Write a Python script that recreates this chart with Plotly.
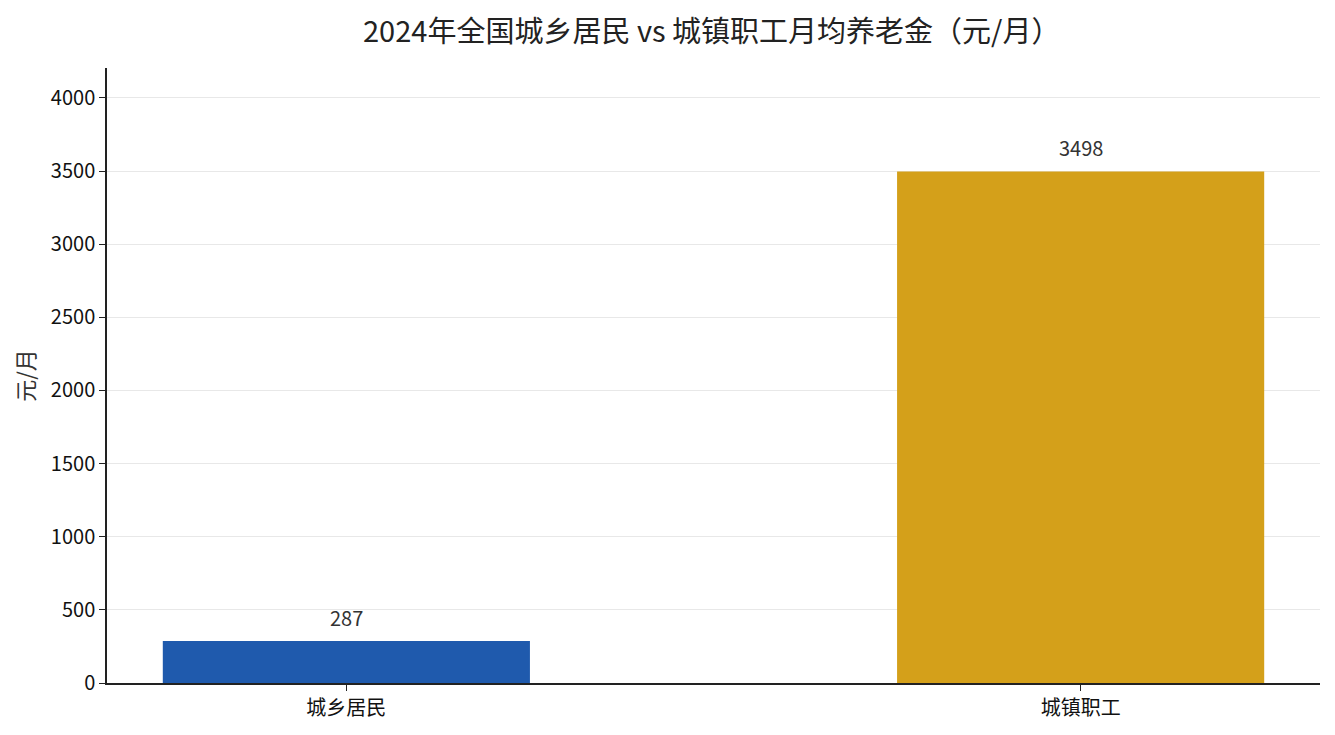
import plotly.graph_objects as go

# 2024 monthly pension comparison (元/月)
categories = ["城乡居民", "城镇职工"]
pension_values = [287, 3498]
bar_colors = ["#1f5aad", "#d4a01a"]
y_ticks = [0, 500, 1000, 1500, 2000, 2500, 3000, 3500, 4000]

FONT = "Noto Sans CJK SC"
TITLE = "2024年全国城乡居民 vs 城镇职工月均养老金（元/月）"

fig = go.Figure()

fig.add_trace(go.Bar(
    x=categories,
    y=pension_values,
    marker=dict(color=bar_colors, line=dict(width=0)),
    width=0.5,
    hoverinfo="x+y",
    showlegend=False,
))

# value labels above each bar
for cat, val in zip(categories, pension_values):
    fig.add_annotation(
        x=cat, y=val, text=str(val),
        showarrow=False, yanchor="bottom", yshift=7,
        font=dict(family=FONT, size=20, color="#333333"),
    )

# title as a paper annotation, centred a little left of the plot centre
fig.add_annotation(
    text=TITLE, xref="paper", yref="paper",
    x=0.498, y=1.064, xanchor="center", yanchor="middle",
    showarrow=False,
    font=dict(family=FONT, size=29, color="#222222"),
)

fig.update_layout(
    width=1335,
    height=735,
    paper_bgcolor="white",
    plot_bgcolor="white",
    font=dict(family=FONT, size=20, color="#111111"),
    margin=dict(l=99, r=23, t=60, b=60),
    bargap=0.5,
)

fig.update_xaxes(
    range=[-0.326, 1.326],
    showline=True, linecolor="#222222", linewidth=1.5,
    ticks="outside", ticklen=6, tickcolor="#222222",
    showgrid=False,
    tickfont=dict(family=FONT, size=20, color="#111111"),
)

fig.update_yaxes(
    range=[0, 4205],
    tickvals=y_ticks,
    showline=True, linecolor="#222222", linewidth=1.5,
    ticks="outside", ticklen=6, tickcolor="#222222",
    showgrid=True, gridcolor="#e8e8e8", gridwidth=1,
    zeroline=False,
    layer="above traces",
    tickfont=dict(family=FONT, size=20, color="#111111"),
    title=dict(text="元/月", font=dict(family=FONT, size=22, color="#333333"), standoff=14),
)

fig.write_html("out.html")
